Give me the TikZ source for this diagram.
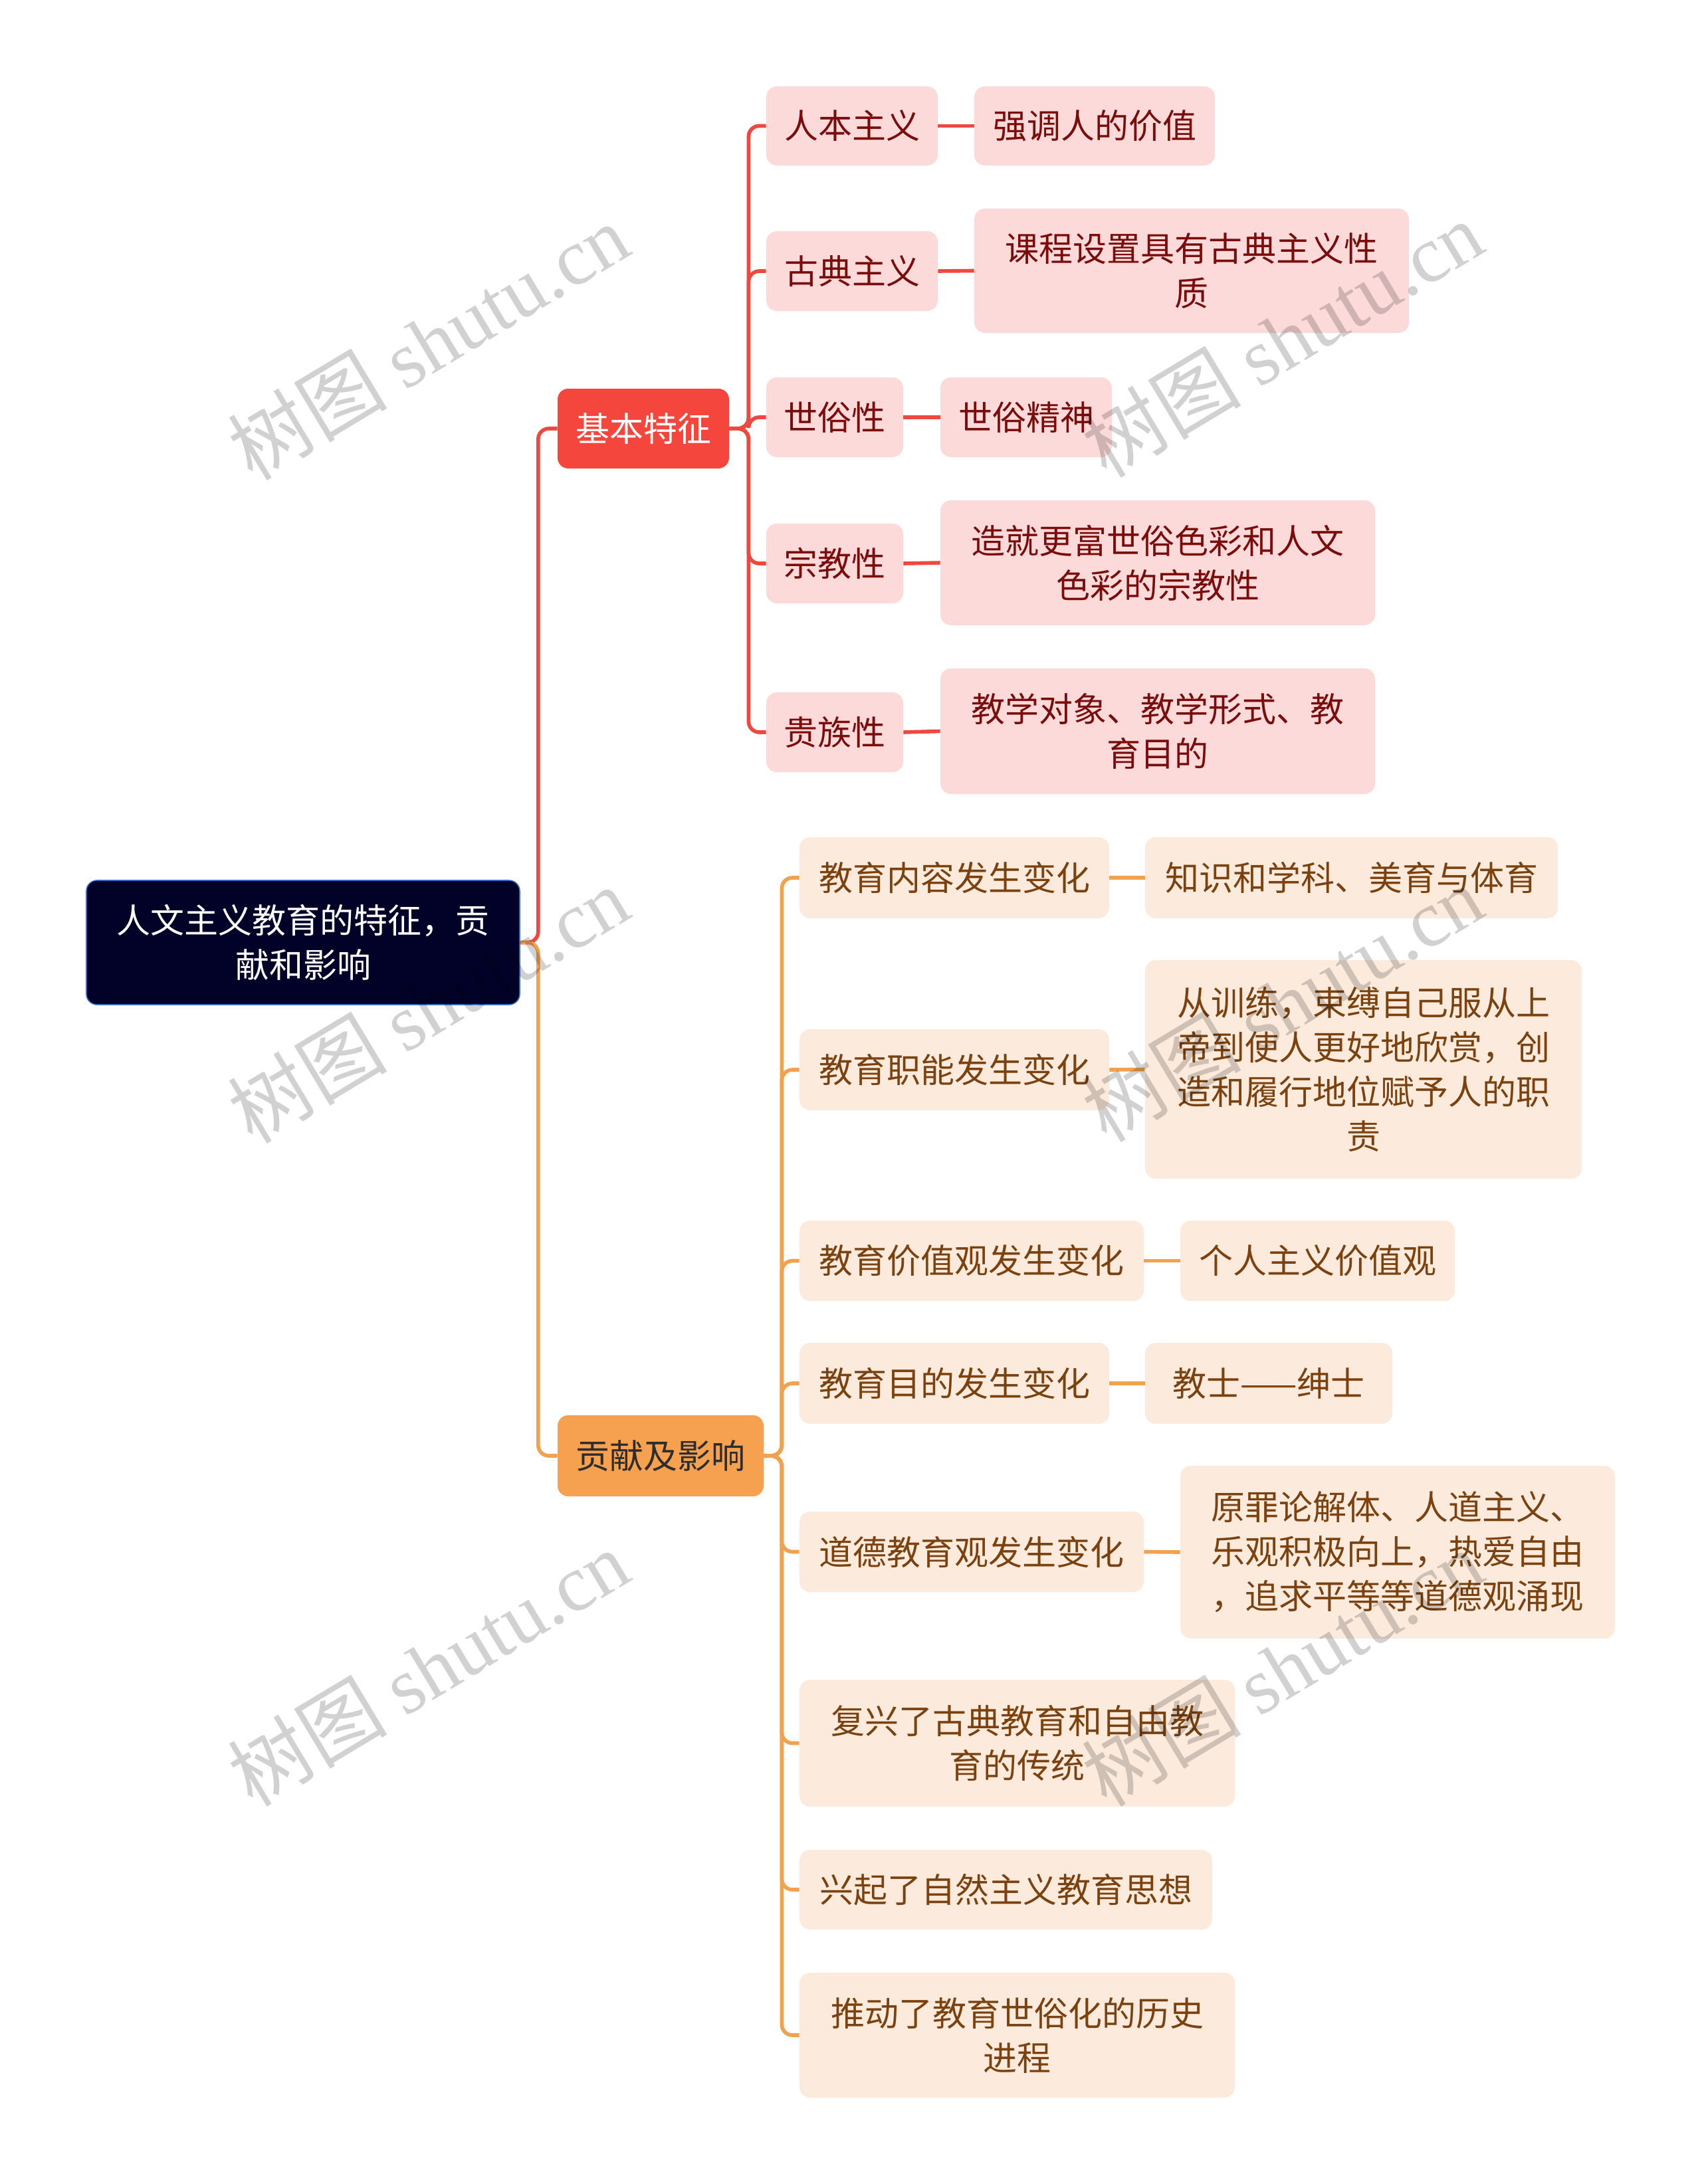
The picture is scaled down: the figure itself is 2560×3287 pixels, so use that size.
\documentclass[tikz,border=0pt]{standalone}
\usepackage{fontspec}
\setmainfont{Noto Sans CJK SC}
\newfontfamily\wmserif{Liberation Serif}
\definecolor{rootfill}{HTML}{020229}
\definecolor{rootedge}{HTML}{3A6BC9}
\definecolor{redln}{HTML}{EF4840}
\definecolor{redfill}{HTML}{F4463C}
\definecolor{pinkfill}{HTML}{FDDADA}
\definecolor{redtext}{HTML}{7A0C0C}
\definecolor{orln}{HTML}{F2A14E}
\definecolor{orfill}{HTML}{F5A14F}
\definecolor{creamfill}{HTML}{FCEBDC}
\definecolor{browntext}{HTML}{7B4210}
\definecolor{darktext}{HTML}{2D2D2D}
\newcommand{\mybox}[7]{\node[#6, minimum width={(#4-#2)*0.5pt}, minimum height={(#5-#3)*0.5pt}] (#1) at ({(#2+#4)/2},{(#3+#5)/2}) {#7};}
\tikzset{
  base/.style={rectangle, rounded corners=8pt, inner sep=0pt, align=center, font=\fontsize{25.5pt}{33.5pt}\selectfont},
  rootbox/.style={base, fill=rootfill, draw=rootedge, line width=0.8pt, text=white},
  redmain/.style={base, fill=redfill, text=white},
  ormain/.style={base, fill=orfill, text=darktext},
  redsub/.style={base, fill=pinkfill, text=redtext},
  orsub/.style={base, fill=creamfill, text=browntext},
  redconn/.style={draw=redln, line width=2.8pt, rounded corners=8pt},
  orconn/.style={draw=orln, line width=2.8pt, rounded corners=8pt},
  wm/.style={rotate=31, text=black, text opacity=0.18, font=\fontsize{60pt}{64pt}\selectfont}
}
\begin{document}
\begin{tikzpicture}[x=0.5pt,y=-0.5pt]
\fill[white] (0,0) rectangle (2560,3287);
\useasboundingbox (0,0) rectangle (2560,3287);

% root and main branches
\mybox{root}{130}{1325}{782}{1512}{rootbox}{人文主义教育的特征，贡\\献和影响}
\mybox{k}{839}{585}{1097}{705}{redmain}{基本特征}
\mybox{g}{839}{2130}{1149}{2252}{ormain}{贡献及影响}

% red children
\mybox{a1}{1153}{130}{1411}{249}{redsub}{人本主义}
\mybox{a2}{1153}{348}{1411}{468}{redsub}{古典主义}
\mybox{a3}{1153}{568}{1359}{688}{redsub}{世俗性}
\mybox{a4}{1153}{788}{1359}{908}{redsub}{宗教性}
\mybox{a5}{1153}{1042}{1359}{1162}{redsub}{贵族性}

\mybox{b1}{1466}{130}{1828}{249}{redsub}{强调人的价值}
\mybox{b2}{1466}{314}{2120}{501}{redsub}{课程设置具有古典主义性\\质}
\mybox{b3}{1415}{568}{1673}{688}{redsub}{世俗精神}
\mybox{b4}{1415}{753}{2069}{941}{redsub}{造就更富世俗色彩和人文\\色彩的宗教性}
\mybox{b5}{1415}{1006}{2069}{1195}{redsub}{教学对象、教学形式、教\\育目的}

% orange children
\mybox{c1}{1203}{1260}{1669}{1382}{orsub}{教育内容发生变化}
\mybox{c2}{1203}{1549}{1669}{1671}{orsub}{教育职能发生变化}
\mybox{c3}{1203}{1837}{1721}{1958}{orsub}{教育价值观发生变化}
\mybox{c4}{1203}{2021}{1669}{2143}{orsub}{教育目的发生变化}
\mybox{c5}{1203}{2275}{1721}{2396}{orsub}{道德教育观发生变化}
\mybox{c6}{1203}{2528}{1858}{2719}{orsub}{复兴了古典教育和自由教\\育的传统}
\mybox{c7}{1203}{2784}{1824}{2904}{orsub}{兴起了自然主义教育思想}
\mybox{c8}{1203}{2969}{1858}{3157}{orsub}{推动了教育世俗化的历史\\进程}

\mybox{d1}{1723}{1260}{2344}{1382}{orsub}{知识和学科、美育与体育}
\mybox{d2}{1723}{1445}{2380}{1774}{orsub}{从训练，束缚自己服从上\\帝到使人更好地欣赏，创\\造和履行地位赋予人的职\\责}
\mybox{d3}{1776}{1837}{2189}{1958}{orsub}{个人主义价值观}
\mybox{d4}{1723}{2021}{2095}{2143}{orsub}{教士——绅士}
\mybox{d5}{1776}{2206}{2430}{2466}{orsub}{原罪论解体、人道主义、\\乐观积极向上，热爱自由\\，追求平等等道德观涌现}

% connectors
\draw[redconn] (root.east) -- ++(27,0) |- (k.west);
\draw[orconn] (root.east) -- ++(27,0) |- (g.west);
\foreach \n in {a1,a2,a3,a4,a5}{\draw[redconn] (k.east) -- ++(29,0) |- (\n.west);}
\foreach \n in {c1,c2,c3,c4,c5,c6,c7,c8}{\draw[orconn] (g.east) -- ++(27,0) |- (\n.west);}
\draw[redconn] (a1.east) -- (b1.west);
\draw[redconn] (a2.east) -- (b2.west);
\draw[redconn] (a3.east) -- (b3.west);
\draw[redconn] (a4.east) -- (b4.west);
\draw[redconn] (a5.east) -- (b5.west);
\draw[orconn] (c1.east) -- (d1.west);
\draw[orconn] (c2.east) -- (d2.west);
\draw[orconn] (c3.east) -- (d3.west);
\draw[orconn] (c4.east) -- (d4.west);
\draw[orconn] (c5.east) -- (d5.west);

% watermarks
\node[wm] (w1) at (644,514) {树图 {\wmserif shutu.cn}};
\node[wm] (w2) at (1929,510) {树图 {\wmserif shutu.cn}};
\node[wm] (w3) at (644,1512) {树图 {\wmserif shutu.cn}};
\node[wm] (w4) at (1929,1510) {树图 {\wmserif shutu.cn}};
\node[wm] (w5) at (644,2510) {树图 {\wmserif shutu.cn}};
\node[wm] (w6) at (1929,2510) {树图 {\wmserif shutu.cn}};
\end{tikzpicture}
\end{document}
